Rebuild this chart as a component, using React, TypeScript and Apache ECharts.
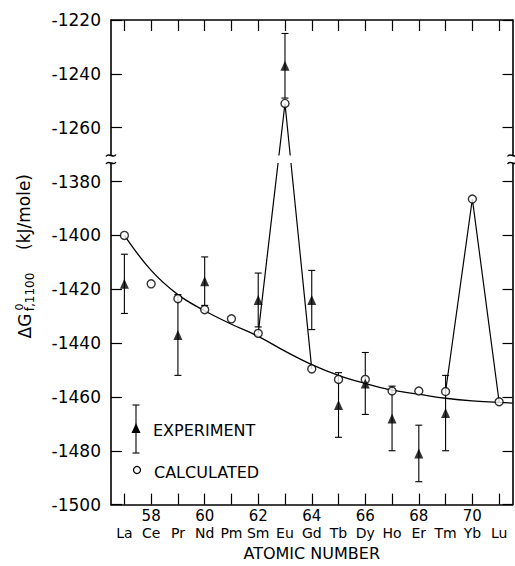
import React, { useEffect, useRef } from 'react';
import * as echarts from 'echarts';

// ---------- data (real ΔG values, kJ/mole) ----------
const atomicNumbers = [57, 58, 59, 60, 61, 62, 63, 64, 65, 66, 67, 68, 69, 70, 71];
const elementSymbols = ['La', 'Ce', 'Pr', 'Nd', 'Pm', 'Sm', 'Eu', 'Gd', 'Tb', 'Dy', 'Ho', 'Er', 'Tm', 'Yb', 'Lu'];
const calculatedValues = [-1400, -1418, -1423.5, -1427.6, -1431, -1436.4, -1251, -1449.6, -1453.5, -1453.5, -1457.8, -1457.8, -1458, -1386.5, -1461.8];

const experimentZ = [57, 59, 60, 62, 63, 64, 65, 66, 67, 68, 69];
const experimentValues = [-1418, -1437, -1417, -1424, -1237, -1424, -1463, -1455, -1468, -1481, -1466];
const experimentErrors = [11, 15, 9, 10, 12, 11, 12, 11.5, 12, 10.5, 14];

const fitCurveZ = [57, 58, 59, 60, 61, 62, 63, 64, 65, 66, 67, 68, 69, 70, 71, 71.5];
const fitCurveValues = [-1400, -1413, -1422, -1428, -1433, -1437.5, -1443, -1448, -1452, -1455, -1457.5, -1459, -1460.5, -1461.5, -1462, -1462.3];

const euPeakZ = [62, 63, 64];
const euPeakValues = [-1436.4, -1251, -1449.6];
const ybPeakZ = [69, 70, 71];
const ybPeakValues = [-1458, -1386.5, -1461.8];

// broken axis: values above the break are shifted down by 100
const BREAK_AT = -1370;
const BREAK_SHIFT = 100;
const toAxis = (v: number) => (v > BREAK_AT ? v - BREAK_SHIFT : v);
const fromAxis = (v: number) => (v > BREAK_AT ? v + BREAK_SHIFT : v);

const FONT = 'DejaVu Sans';
const INK = '#000';

export default function App() {
  const ref = useRef<HTMLDivElement>(null);

  useEffect(() => {
    if (!ref.current) return;
    const chart = echarts.init(ref.current, null, { renderer: 'svg' });

    const pairs = (xs: number[], ys: number[]) => xs.map((x, i) => [x, toAxis(ys[i])]);

    const axisLine = { show: true, lineStyle: { color: INK, width: 1.6 } };
    const tickStyle = { color: INK, width: 1.2 };

    const waves = (cx: number, cy: number) => ({
      type: 'bezierCurve',
      z: 101,
      shape: { x1: cx - 5, y1: cy + 1, x2: cx + 5, y2: cy - 1, cpx1: cx - 2, cpy1: cy - 4, cpx2: cx + 2, cpy2: cy + 4 },
      style: { stroke: INK, lineWidth: 1.4, fill: null },
    });

    const option: any = {
      animation: false,
      backgroundColor: '#fff',
      grid: { left: 111, right: 2.5, top: 20, bottom: 56 },
      xAxis: [
        {
          type: 'value',
          position: 'bottom',
          min: 56.5,
          max: 71.5,
          axisLine,
          splitLine: { show: false },
          axisTick: { inside: true, length: 11, customValues: atomicNumbers, lineStyle: tickStyle },
          axisLabel: {
            customValues: atomicNumbers,
            margin: 3,
            color: INK,
            formatter: (v: number) => {
              const i = atomicNumbers.indexOf(Math.round(v));
              const num = Math.round(v) % 2 === 0 ? String(Math.round(v)) : ' ';
              return `{n|${num}}\n{s|${elementSymbols[i] ?? ''}}`;
            },
            rich: {
              n: { fontFamily: FONT, fontSize: 15, color: INK, lineHeight: 17 },
              s: { fontFamily: FONT, fontSize: 14, color: INK, lineHeight: 17 },
            },
          },
          name: 'ATOMIC NUMBER',
          nameLocation: 'middle',
          nameGap: 37,
          nameTextStyle: { fontFamily: FONT, fontSize: 16, color: INK },
        },
        {
          type: 'value',
          position: 'top',
          min: 56.5,
          max: 71.5,
          axisLine,
          splitLine: { show: false },
          axisTick: { inside: true, length: 11, customValues: atomicNumbers, lineStyle: tickStyle },
          axisLabel: { show: false },
        },
      ],
      yAxis: [
        {
          type: 'value',
          position: 'left',
          min: -1500,
          max: -1320,
          interval: 20,
          axisLine,
          splitLine: { show: false },
          axisTick: { inside: true, length: 11, lineStyle: tickStyle },
          axisLabel: {
            margin: 10,
            color: INK,
            fontFamily: FONT,
            fontSize: 17,
            formatter: (v: number) => String(fromAxis(v)),
          },
        },
        {
          type: 'value',
          position: 'right',
          min: -1500,
          max: -1320,
          interval: 20,
          axisLine,
          splitLine: { show: false },
          axisTick: { inside: true, length: 10, lineStyle: tickStyle },
          axisLabel: { show: false },
        },
      ],
      series: [
        {
          name: 'fit',
          type: 'line',
          smooth: 0.4,
          showSymbol: false,
          data: pairs(fitCurveZ, fitCurveValues),
          lineStyle: { color: INK, width: 1.3 },
          z: 2,
        },
        {
          name: 'Eu peak',
          type: 'line',
          showSymbol: false,
          data: pairs(euPeakZ, euPeakValues),
          lineStyle: { color: INK, width: 1.2 },
          z: 2,
        },
        {
          name: 'Yb peak',
          type: 'line',
          showSymbol: false,
          data: pairs(ybPeakZ, ybPeakValues),
          lineStyle: { color: INK, width: 1.2 },
          z: 2,
        },
        {
          name: 'error',
          type: 'custom',
          z: 3,
          encode: { x: 0, y: [1, 2] },
          data: experimentZ.map((z, i) => [
            z,
            toAxis(experimentValues[i] - experimentErrors[i]),
            toAxis(experimentValues[i] + experimentErrors[i]),
          ]),
          renderItem: (params: any, api: any) => {
            const x = api.value(0);
            const lo = api.coord([x, api.value(1)]);
            const hi = api.coord([x, api.value(2)]);
            const cap = 3.5;
            const st = { stroke: INK, lineWidth: 1.1 };
            return {
              type: 'group',
              children: [
                { type: 'line', shape: { x1: lo[0], y1: lo[1], x2: hi[0], y2: hi[1] }, style: st },
                { type: 'line', shape: { x1: lo[0] - cap, y1: lo[1], x2: lo[0] + cap, y2: lo[1] }, style: st },
                { type: 'line', shape: { x1: hi[0] - cap, y1: hi[1], x2: hi[0] + cap, y2: hi[1] }, style: st },
              ],
            };
          },
        },
        {
          name: 'CALCULATED',
          type: 'scatter',
          symbol: 'circle',
          symbolSize: 8,
          data: pairs(atomicNumbers, calculatedValues),
          itemStyle: { color: '#fff', borderColor: INK, borderWidth: 1.4 },
          z: 4,
        },
        {
          name: 'EXPERIMENT',
          type: 'scatter',
          symbol: 'triangle',
          symbolSize: [9, 10],
          data: pairs(experimentZ, experimentValues),
          itemStyle: { color: INK },
          z: 5,
        },
      ],
      graphic: [
        // axis break gap
        { type: 'rect', z: 100, shape: { x: 100, y: 155.5, width: 420, height: 7.5 }, style: { fill: '#fff' } },
        waves(111, 155.5),
        waves(111, 163),
        waves(512.5, 155.5),
        waves(512.5, 163),
        // y-axis title (rotated)
        { type: 'text', z: 50, x: 25, y: 326, rotation: Math.PI / 2, style: { text: 'ΔG', fontFamily: FONT, fontSize: 17, fill: INK, align: 'center', verticalAlign: 'middle' } },
        { type: 'text', z: 50, x: 19, y: 307, rotation: Math.PI / 2, style: { text: '0', fontFamily: FONT, fontSize: 11, fill: INK, align: 'center', verticalAlign: 'middle' } },
        { type: 'text', z: 50, x: 30, y: 292, rotation: Math.PI / 2, style: { text: 'f,1100', fontFamily: FONT, fontSize: 12, fill: INK, align: 'center', verticalAlign: 'middle' } },
        { type: 'text', z: 50, x: 24, y: 212, rotation: Math.PI / 2, style: { text: '(kJ/mole)', fontFamily: FONT, fontSize: 17, fill: INK, align: 'center', verticalAlign: 'middle' } },
        // legend
        { type: 'line', z: 50, shape: { x1: 136, y1: 405, x2: 136, y2: 453 }, style: { stroke: INK, lineWidth: 1.1 } },
        { type: 'line', z: 50, shape: { x1: 132.5, y1: 405, x2: 139.5, y2: 405 }, style: { stroke: INK, lineWidth: 1.1 } },
        { type: 'line', z: 50, shape: { x1: 132.5, y1: 453, x2: 139.5, y2: 453 }, style: { stroke: INK, lineWidth: 1.1 } },
        { type: 'polygon', z: 51, shape: { points: [[136, 423], [131.5, 433], [140.5, 433]] }, style: { fill: INK } },
        { type: 'text', z: 50, x: 153, y: 430, style: { text: 'EXPERIMENT', fontFamily: FONT, fontSize: 16, fill: INK, verticalAlign: 'middle' } },
        { type: 'circle', z: 50, shape: { cx: 137, cy: 470, r: 3.5 }, style: { fill: '#fff', stroke: INK, lineWidth: 1.3 } },
        { type: 'text', z: 50, x: 154, y: 472, style: { text: 'CALCULATED', fontFamily: FONT, fontSize: 16, fill: INK, verticalAlign: 'middle' } },
      ],
    };

    chart.setOption(option);
    return () => chart.dispose();
  }, []);

  return (
    <div
      ref={ref}
      style={{ position: 'absolute', left: 0, top: 0, width: 515, height: 566, background: '#fff' }}
    />
  );
}
